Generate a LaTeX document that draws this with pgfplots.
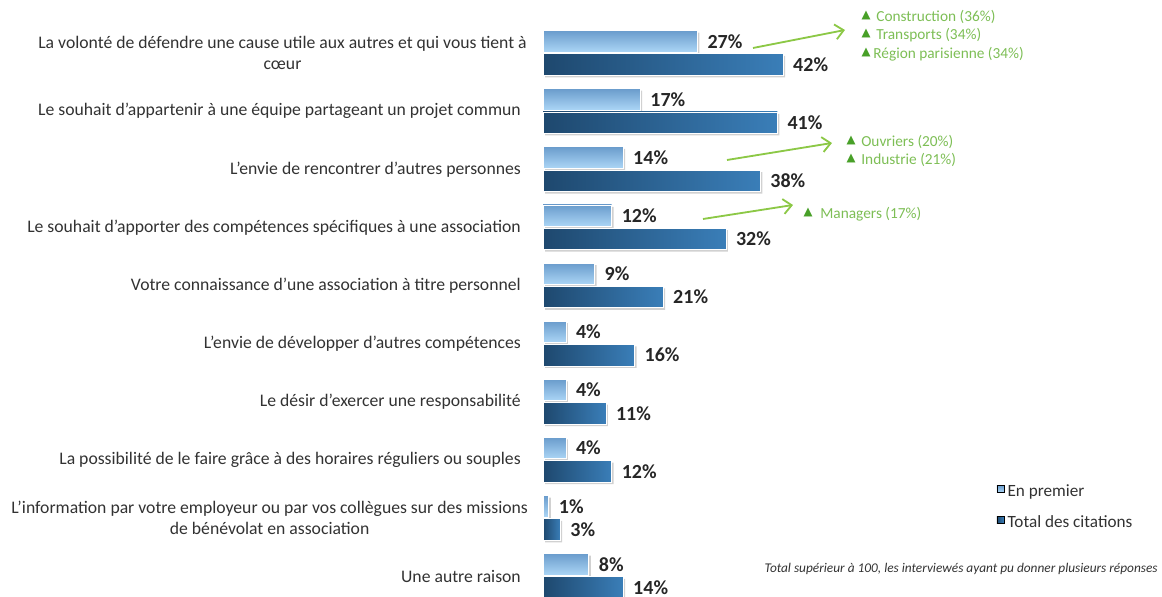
\documentclass[border=0pt]{standalone}
\usepackage{pgfplots}
\pgfplotsset{compat=1.18}
\usepackage{fontspec}
\setmainfont{Carlito}
\newfontfamily\symfont{DejaVu Sans}
\usetikzlibrary{arrows.meta}

\definecolor{lightTop}{RGB}{106,156,204}
\definecolor{lightBot}{RGB}{172,214,246}
\definecolor{darkL}{RGB}{30,72,110}
\definecolor{darkR}{RGB}{58,126,184}
\definecolor{annot}{RGB}{125,190,85}
\definecolor{tri}{RGB}{72,160,40}
\definecolor{arrowc}{RGB}{140,200,70}
\definecolor{valc}{RGB}{38,38,38}
\definecolor{labc}{RGB}{50,50,50}

\pgfplotstableread{
y val
9.2 27
8.2 17
7.2 14
6.2 12
5.2 9
4.2 4
3.2 4
2.2 4
1.2 1
0.2 8
}\first
\pgfplotstableread{
y val
8.8 42
7.8 41
6.8 38
5.8 32
4.8 21
3.8 16
2.8 11
1.8 12
0.8 3
-0.2 14
}\total

\pgfplotsset{
  lightbar/.style={top color=lightTop, bottom color=lightBot, draw=white, line width=0.5pt},
  darkbar/.style={left color=darkL, right color=darkR, draw=white, line width=0.5pt},
  shadowbar/.style={fill=black!18, draw=none, xshift=1.2pt, yshift=-1.2pt, forget plot},
  valnodes/.style={point meta=x,
    nodes near coords={\pgfmathprintnumber{\pgfplotspointmeta}\%},
    nodes near coords style={font=\bfseries\fontsize{12}{12}\selectfont, text=valc, anchor=west, xshift=2.5pt,
      /pgf/number format/assume math mode=true}},
}

\begin{document}
\begin{tikzpicture}
\begin{axis}[
  at={(0,0)}, anchor=south west,
  scale only axis, width=697.2pt, height=358.2pt,
  xmin=-95.03, xmax=108.3, ymin=-0.361, ymax=9.912,
  axis lines=none, xtick=\empty, ytick=\empty, clip=false,
  xbar, bar width=0.37, bar shift=0pt,
  legend style={at={(axis cs:79.3,1.64)}, anchor=north west, draw=none, fill=none,
    font=\fontsize{10.3}{12}\selectfont, text=labc, row sep=6pt, inner sep=0pt,
    legend cell align=left},
]
% shadows
\addplot[shadowbar] table[x=val,y=y]{\first};
\addplot[shadowbar] table[x=val,y=y]{\total};
% bars, one plot per bar so that each bar has its own shading
\pgfplotsinvokeforeach{0,...,9}{
  \addplot[lightbar, valnodes, forget plot, x filter/.expression={\coordindex==#1 ? x : nan}]
    table[x=val, y=y]{\first};
  \addplot[darkbar, valnodes, forget plot, x filter/.expression={\coordindex==#1 ? x : nan}]
    table[x=val, y=y]{\total};
}
\addlegendimage{legend image code/.code={\path[top color=lightTop, bottom color=lightBot] (0pt,-0.5pt) rectangle (4.2pt,3.7pt);}}
\addlegendentry{En premier}
\addlegendimage{legend image code/.code={\path[left color=darkL, right color=darkR] (0pt,-0.5pt) rectangle (4.2pt,3.7pt);}}
\addlegendentry{Total des citations}

\begin{scope}[every node/.style={anchor=east, align=center, inner sep=0pt, text=labc, font=\fontsize{10.6}{12.6}\selectfont}]
\node at (axis cs:-2.8,9) {La volonté de défendre une cause utile aux autres et qui vous tient à\\cœur};
\node at (axis cs:-3.85,8) {Le souhait d’appartenir à une équipe partageant un projet commun};
\node at (axis cs:-3.85,7) {L’envie de rencontrer d’autres personnes};
\node at (axis cs:-3.85,6) {Le souhait d’apporter des compétences spécifiques à une association};
\node at (axis cs:-3.85,5) {Votre connaissance d’une association à titre personnel};
\node at (axis cs:-3.85,4) {L’envie de développer d’autres compétences};
\node at (axis cs:-3.85,3) {Le désir d’exercer une responsabilité};
\node at (axis cs:-3.85,2) {La possibilité de le faire grâce à des horaires réguliers ou souples};
\node at (axis cs:-2.6,1) {L’information par votre employeur ou par vos collègues sur des missions\\de bénévolat en association};
\node at (axis cs:-3.85,0) {Une autre raison};
\end{scope}
\end{axis}

% annotations
\begin{scope}[arrowc, line width=1.1pt]
\draw[-{Straight Barb[length=5pt,width=9pt]}] (451.8pt,329.4pt) -- (507pt,340.2pt);
\draw[-{Straight Barb[length=5pt,width=9pt]}] (436.2pt,262.2pt) -- (499.2pt,272.4pt);
\draw[-{Straight Barb[length=5pt,width=9pt]}] (421.8pt,226.8pt) -- (475.8pt,235.2pt);
\end{scope}
\begin{scope}[every node/.style={inner sep=0pt}]
\foreach \tx/\ty/\lx/\ly/\t in {519.6/349/525.6/348/Construction (36\%),
   519.6/338.2/525.6/337.2/Transports (34\%),
   519.6/326.8/523.8/325.8/Région parisienne (34\%),
   510.6/274/516.6/273/Ouvriers (20\%),
   510.6/263.2/516.6/262.2/Industrie (21\%),
   484.8/230.8/492/229.8/Managers (17\%)}{
  \node[text=tri, font=\symfont\fontsize{7}{7}\selectfont] at (\tx pt,\ty pt) {▲};
  \node[anchor=west, text=annot, font=\fontsize{9.2}{10}\selectfont] at (\lx pt,\ly pt) {\t};
}
\node[anchor=east, inner sep=0pt, text=labc, font=\itshape\fontsize{8}{9}\selectfont] at (694.8pt,16.8pt) {Total supérieur à 100, les interviewés ayant pu donner plusieurs réponses};
\end{scope}
\pgfresetboundingbox
\path[use as bounding box] (0,0) rectangle (697.2pt,358.2pt);
\end{tikzpicture}
\end{document}
